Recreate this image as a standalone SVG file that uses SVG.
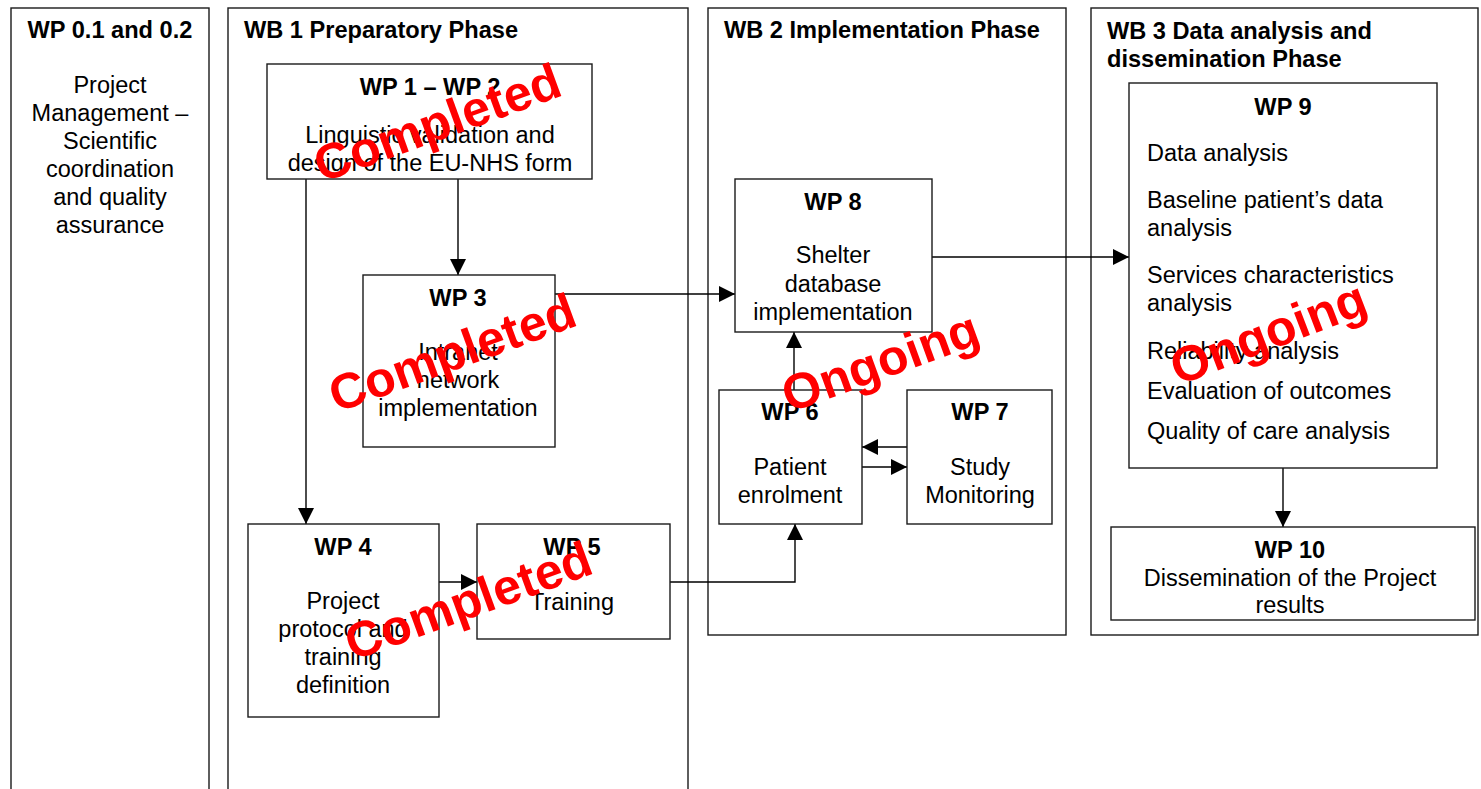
<svg xmlns="http://www.w3.org/2000/svg" width="1481" height="789" viewBox="0 0 1481 789">
<defs>
<marker id="ah" markerUnits="userSpaceOnUse" markerWidth="16" markerHeight="16" viewBox="0 0 16 16" refX="16" refY="8" orient="auto">
<path d="M0,0 L16,8 L0,16 Z" fill="#000"/>
</marker>
<style>
.box{fill:#fff;stroke:#1a1a1a;stroke-width:1.4}
.col{fill:none;stroke:#1a1a1a;stroke-width:1.4}
.t{font-family:"Liberation Sans",Arial,sans-serif;font-size:23.5px;fill:#000}
.c{text-anchor:middle}
.b{font-weight:bold;font-size:23.6px}
.con{fill:none;stroke:#000;stroke-width:1.4}
.arr{marker-end:url(#ah)}
.st{font-family:"Liberation Sans",Arial,sans-serif;font-weight:bold;font-size:50px;fill:#ff0000;text-anchor:middle}
</style>
</defs>
<rect width="1481" height="789" fill="#fff"/>

<g id="col-wp0">
<rect class="col" x="11" y="8" width="198" height="800"/>
<text class="t b c" x="110" y="38">WP 0.1 and 0.2</text>
<text class="t c" x="110" y="93">Project</text>
<text class="t c" x="110" y="121">Management –</text>
<text class="t c" x="110" y="149">Scientific</text>
<text class="t c" x="110" y="177">coordination</text>
<text class="t c" x="110" y="205">and quality</text>
<text class="t c" x="110" y="233">assurance</text>
</g>

<g id="col-wb1">
<rect class="col" x="228" y="8" width="460" height="800"/>
<text class="t b" x="244" y="38">WB 1 Preparatory Phase</text>
</g>

<g id="col-wb2">
<rect class="col" x="708" y="8" width="358" height="627"/>
<text class="t b" x="724" y="38">WB 2 Implementation Phase</text>
</g>

<g id="col-wb3">
<rect class="col" x="1091" y="8" width="387" height="627"/>
<text class="t b" x="1107" y="39">WB 3 Data analysis and</text>
<text class="t b" x="1107" y="67">dissemination Phase</text>
</g>

<g id="connectors">
<path class="con arr" d="M306,179 V524"/>
<path class="con arr" d="M458,179 V275"/>
<path class="con arr" d="M555,294 H735"/>
<path class="con arr" d="M439,582 H477"/>
<path class="con arr" d="M670,582 H795 V524"/>
<path class="con arr" d="M794,390 V332"/>
<path class="con arr" d="M907,447 H862"/>
<path class="con arr" d="M862,467 H907"/>
<path class="con arr" d="M930,257 H1129"/>
<path class="con arr" d="M1283,468 V527"/>
</g>

<g id="wp1-2">
<rect class="box" x="267" y="64" width="325" height="115"/>
<text class="t b c" x="430" y="95">WP 1 – WP 2</text>
<text class="t c" x="430" y="143">Linguistic validation and</text>
<text class="t c" x="430" y="171">design of the EU-NHS form</text>
</g>

<g id="wp3">
<rect class="box" x="363" y="275" width="192" height="172"/>
<text class="t b c" x="458" y="306">WP 3</text>
<text class="t c" x="458" y="360">Intranet</text>
<text class="t c" x="458" y="388">network</text>
<text class="t c" x="458" y="416">implementation</text>
</g>

<g id="wp4">
<rect class="box" x="248" y="524" width="191" height="193"/>
<text class="t b c" x="343" y="555">WP 4</text>
<text class="t c" x="343" y="609">Project</text>
<text class="t c" x="343" y="637">protocol and</text>
<text class="t c" x="343" y="665">training</text>
<text class="t c" x="343" y="693">definition</text>
</g>

<g id="wp5">
<rect class="box" x="477" y="524" width="193" height="115"/>
<text class="t b c" x="572" y="555">WP 5</text>
<text class="t c" x="572" y="610">Training</text>
</g>

<g id="wp8">
<rect class="box" x="735" y="179" width="197" height="153"/>
<text class="t b c" x="833" y="210">WP 8</text>
<text class="t c" x="833" y="263">Shelter</text>
<text class="t c" x="833" y="292">database</text>
<text class="t c" x="833" y="320">implementation</text>
</g>

<g id="wp6">
<rect class="box" x="719" y="390" width="143" height="134"/>
<text class="t b c" x="790" y="420">WP 6</text>
<text class="t c" x="790" y="475">Patient</text>
<text class="t c" x="790" y="503">enrolment</text>
</g>

<g id="wp7">
<rect class="box" x="907" y="390" width="145" height="134"/>
<text class="t b c" x="980" y="420">WP 7</text>
<text class="t c" x="980" y="475">Study</text>
<text class="t c" x="980" y="503">Monitoring</text>
</g>

<g id="wp9">
<rect class="box" x="1129" y="83" width="308" height="385"/>
<text class="t b c" x="1283" y="115">WP 9</text>
<text class="t" x="1147" y="161">Data analysis</text>
<text class="t" x="1147" y="208">Baseline patient’s data</text>
<text class="t" x="1147" y="236">analysis</text>
<text class="t" x="1147" y="283">Services characteristics</text>
<text class="t" x="1147" y="311">analysis</text>
<text class="t" x="1147" y="359">Reliability analysis</text>
<text class="t" x="1147" y="399">Evaluation of outcomes</text>
<text class="t" x="1147" y="439">Quality of care analysis</text>
</g>

<g id="wp10">
<rect class="box" x="1111" y="527" width="364" height="93"/>
<text class="t b c" x="1290" y="558">WP 10</text>
<text class="t c" x="1290" y="586">Dissemination of the Project</text>
<text class="t c" x="1290" y="613">results</text>
</g>

<g id="status">
<text class="st" x="437" y="140" transform="rotate(-20 437 122)">Completed</text>
<text class="st" x="452" y="370" transform="rotate(-20 452 352)">Completed</text>
<text class="st" x="468" y="618" transform="rotate(-20 468 600)">Completed</text>
<text class="st" x="880" y="379" transform="rotate(-20 880 361)">Ongoing</text>
<text class="st" x="1268" y="350" transform="rotate(-21 1268 332)">Ongoing</text>
</g>
</svg>
